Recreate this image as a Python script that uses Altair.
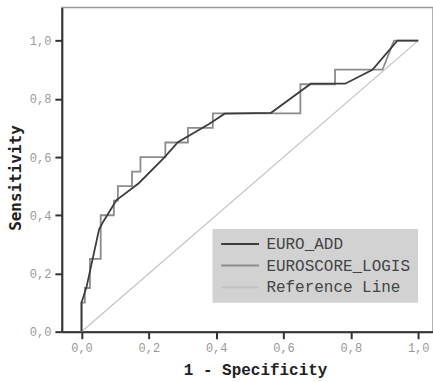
import altair as alt
import pandas as pd

# EURO_ADD ROC curve (1 - specificity, sensitivity)
add_x = [0.0, 0.0, 0.015, 0.052, 0.064, 0.104, 0.17, 0.247, 0.286, 0.38, 0.425, 0.563, 0.681, 0.783, 0.864, 0.938, 1.0]
add_y = [0.0, 0.10, 0.154, 0.351, 0.377, 0.452, 0.51, 0.60, 0.651, 0.714, 0.749, 0.752, 0.852, 0.852, 0.90, 1.0, 1.0]

# EUROSCORE_LOGIS ROC curve (step)
logis_x = [0.0, 0.0, 0.01, 0.01, 0.025, 0.025, 0.057, 0.057, 0.096, 0.096, 0.108, 0.108, 0.150, 0.150,
           0.175, 0.175, 0.249, 0.249, 0.316, 0.316, 0.390, 0.390, 0.650, 0.650, 0.753, 0.753, 0.894, 0.928, 1.0]
logis_y = [0.0, 0.10, 0.10, 0.15, 0.15, 0.25, 0.25, 0.40, 0.40, 0.45, 0.45, 0.50, 0.50, 0.55,
           0.55, 0.60, 0.60, 0.65, 0.65, 0.70, 0.70, 0.75, 0.75, 0.85, 0.85, 0.90, 0.90, 1.0, 1.0]

# Reference line
ref_x = [0.0, 1.0]
ref_y = [0.0, 1.0]

series_names = ["EURO_ADD", "EUROSCORE_LOGIS", "Reference Line"]
series_colors = ["#3c3c3c", "#8c8c8c", "#c4c4c4"]
tick_values = [0.0, 0.2, 0.4, 0.6, 0.8, 1.0]

rows = []
for name, xs, ys in [("EURO_ADD", add_x, add_y), ("EUROSCORE_LOGIS", logis_x, logis_y), ("Reference Line", ref_x, ref_y)]:
    for i, (a, b) in enumerate(zip(xs, ys)):
        rows.append({"series": name, "i": i, "x": a, "y": b})
df = pd.DataFrame(rows)

label_expr = "replace(format(datum.value, '.1f'), '.', ',')"

x_enc = alt.X(
    "x:Q",
    scale=alt.Scale(domain=[-0.0584, 1.0439], nice=False, zero=False),
    axis=alt.Axis(
        values=tick_values, labelExpr=label_expr, title="1 - Specificity", grid=False,
        tickSize=7, tickWidth=2, tickColor="#333", domainColor="#333", domainWidth=2,
        labelColor="#999", labelFont="Liberation Mono", labelFontSize=12, labelPadding=4,
        titleFont="Liberation Mono", titleFontSize=16, titleFontWeight="bold", titleColor="#222",
        titleX=193.7, titleY=38, titleBaseline="middle", titleAlign="center",
    ),
)
y_enc = alt.Y(
    "y:Q",
    scale=alt.Scale(domain=[0, 1.114], nice=False, zero=False),
    axis=alt.Axis(
        values=tick_values, labelExpr=label_expr, title="Sensitivity", grid=False,
        tickSize=7, tickWidth=2, tickColor="#333", domainColor="#333", domainWidth=2,
        labelColor="#999", labelFont="Liberation Mono", labelFontSize=12, labelPadding=4,
        titleFont="DejaVu Sans Mono", titleFontSize=16, titleFontWeight="bold", titleColor="#222",
        titleX=-46, titleY=170.5, titleAngle=270, titleBaseline="middle", titleAlign="center",
    ),
)
color_enc = alt.Color(
    "series:N",
    scale=alt.Scale(domain=series_names, range=series_colors),
    legend=alt.Legend(
        title=None, orient="none", legendX=151, legendY=222,
        fillColor="#d2d2d2", padding=7, rowPadding=5.7,
        labelFont="Liberation Mono", labelFontSize=16, labelColor="#444", labelOffset=31,
        symbolType="M-1,0H5", symbolSize=160, symbolStrokeWidth=2,
    ),
)

def layer(name, width):
    return alt.Chart(df).transform_filter(alt.datum.series == name).mark_line(strokeWidth=width).encode(
        x=x_enc, y=y_enc, color=color_enc, order=alt.Order("i:Q")
    )

chart = alt.layer(
    layer("Reference Line", 1.2),
    layer("EUROSCORE_LOGIS", 1.8),
    layer("EURO_ADD", 1.8),
).properties(
    width=372, height=325,
    autosize=alt.AutoSizeParams(type="none"),
    padding={"left": 62, "top": 7, "right": 0, "bottom": 50},
    background="white",
).configure_view(stroke="#999", strokeWidth=1.5)

chart.save("out.html", embed_options={"renderer": "svg", "actions": False})
